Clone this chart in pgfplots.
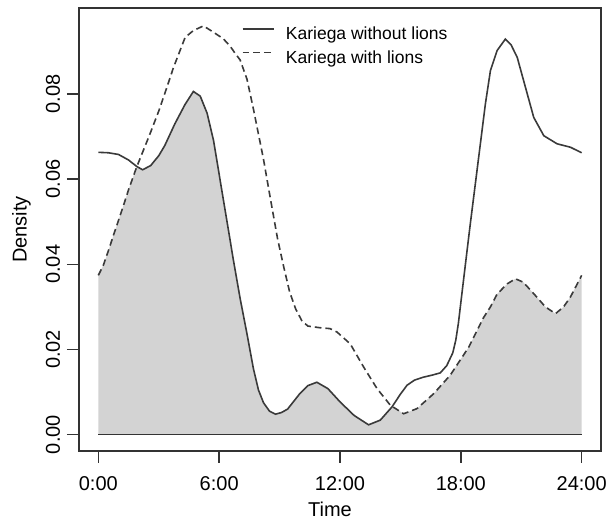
\documentclass[border=0pt]{standalone}
\usepackage{fontspec}
\setmainfont{Liberation Sans}
\usepackage{pgfplots}
\usepackage{pgfplotstable}
\pgfplotsset{compat=1.18}
\definecolor{fillgray}{HTML}{D3D3D3}
\definecolor{curvec}{HTML}{3A3A3A}
\definecolor{boxc}{HTML}{333333}
% Kariega without lions
\pgfplotstableread{
t d
0.00 0.0663
0.50 0.0662
1.00 0.0658
1.50 0.0645
1.90 0.0630
2.20 0.0622
2.60 0.0632
3.00 0.0655
3.30 0.0679
3.80 0.0730
4.30 0.0775
4.72 0.0806
5.06 0.0795
5.40 0.0755
5.72 0.0691
6.05 0.0597
6.38 0.0503
6.71 0.0409
7.04 0.0320
7.38 0.0237
7.70 0.0155
7.95 0.0105
8.20 0.0075
8.50 0.0055
8.80 0.0048
9.10 0.0052
9.40 0.0060
10.00 0.0096
10.40 0.0115
10.85 0.0123
11.40 0.0108
12.00 0.0077
12.70 0.0045
13.42 0.0023
14.00 0.0034
14.58 0.0065
15.00 0.0095
15.33 0.0116
15.70 0.0128
16.15 0.0135
16.60 0.0140
16.98 0.0145
17.30 0.0162
17.60 0.0192
17.75 0.0222
17.88 0.0262
18.00 0.0310
18.23 0.0401
18.47 0.0495
18.72 0.0589
18.97 0.0683
19.22 0.0777
19.47 0.0855
19.80 0.0902
20.21 0.0929
20.50 0.0915
20.80 0.0886
21.30 0.0800
21.62 0.0745
22.12 0.0702
22.78 0.0683
23.44 0.0675
24.00 0.0662
}\solid
% Kariega with lions
\pgfplotstableread{
t d
0.00 0.0374
0.25 0.0398
0.50 0.0432
0.75 0.0468
1.00 0.0503
1.24 0.0537
1.50 0.0575
1.90 0.0628
2.57 0.0707
3.00 0.0760
3.40 0.0815
3.73 0.0862
4.31 0.0933
4.72 0.0949
5.22 0.0960
5.72 0.0945
6.20 0.0930
6.55 0.0912
6.80 0.0895
7.04 0.0880
7.38 0.0835
7.70 0.0765
8.20 0.0647
8.53 0.0558
8.90 0.0460
9.20 0.0395
9.50 0.0335
9.80 0.0295
10.10 0.0268
10.40 0.0255
11.00 0.0251
11.50 0.0249
11.85 0.0241
12.51 0.0213
13.17 0.0159
13.84 0.0108
14.50 0.0069
15.16 0.0049
15.82 0.0061
16.65 0.0096
17.48 0.0140
18.40 0.0206
19.13 0.0275
19.47 0.0300
19.80 0.0330
20.30 0.0354
20.71 0.0366
21.10 0.0358
21.62 0.0331
22.20 0.0300
22.70 0.0284
23.10 0.0300
23.44 0.0323
24.00 0.0374
}\dashed
% overlap: the lower of the two densities
\pgfplotstableread{
t d
0.00 0.0374
0.25 0.0398
0.50 0.0432
0.75 0.0468
1.00 0.0503
1.24 0.0537
1.50 0.0575
1.90 0.0628
2.20 0.0622
2.60 0.0632
3.00 0.0655
3.30 0.0679
3.80 0.0730
4.30 0.0775
4.72 0.0806
5.06 0.0795
5.40 0.0755
5.72 0.0691
6.05 0.0597
6.38 0.0503
6.71 0.0409
7.04 0.0320
7.38 0.0237
7.70 0.0155
7.95 0.0105
8.20 0.0075
8.50 0.0055
8.80 0.0048
9.10 0.0052
9.40 0.0060
10.00 0.0096
10.40 0.0115
10.85 0.0123
11.40 0.0108
12.00 0.0077
12.70 0.0045
13.42 0.0023
14.00 0.0034
14.58 0.0065
14.60 0.0066
15.16 0.0049
15.82 0.0061
16.65 0.0096
17.48 0.0140
18.40 0.0206
19.13 0.0275
19.47 0.0300
19.80 0.0330
20.30 0.0354
20.71 0.0366
21.10 0.0358
21.62 0.0331
22.20 0.0300
22.70 0.0284
23.10 0.0300
23.44 0.0323
24.00 0.0374
}\overlap
\begin{document}
\begin{tikzpicture}
\path[use as bounding box] (-79bp,-70bp) rectangle (530bp,451bp);
\begin{axis}[
  scale only axis, width=522bp, height=443bp,
  at={(0,0)}, anchor=south west,
  xmin=-0.96, xmax=24.96, ymin=-0.00385, ymax=0.1002,
  xtick={0,6,12,18,24}, xticklabels={0:00,6:00,12:00,18:00,24:00},
  ytick={0,0.02,0.04,0.06,0.08}, yticklabels={0.00,0.02,0.04,0.06,0.08},
  /pgf/number format/assume math mode=true,
  tick align=outside, xtick pos=bottom, ytick pos=left,
  major tick length=12bp,
  xticklabel shift=9.75bp,
  axis line style={line width=1.6bp, boxc},
  tick style={line width=1.6bp, boxc},
  ticklabel style={font=\fontsize{20bp}{24bp}\selectfont},
  yticklabel style={rotate=90, anchor=south, yshift=3.3bp},
  xlabel={Time}, ylabel={Density},
  xlabel style={at={(axis description cs:0.4808,-0.1483)}, anchor=base, font=\fontsize{20bp}{24bp}\selectfont},
  ylabel style={at={(axis description cs:-0.1002,0.5)}, anchor=base, font=\fontsize{20bp}{24bp}\selectfont},
  legend style={at={(axis description cs:0.3117,0.9645)}, anchor=north west,
    draw=none, fill=none, inner sep=0pt, outer sep=0pt,
    font=\fontsize{17.5bp}{21bp}\selectfont, row sep=0pt,
    nodes={inner ysep=3.65bp, inner xsep=0bp, text height=12.6bp, text depth=3.5bp},
    /tikz/every odd column/.append style={column sep=11.6bp}},
  legend cell align=left,
  legend image code/.code={\draw[#1] (0bp,6.2bp) -- (31bp,6.2bp);},
]
\addplot[draw=none, fill=fillgray, forget plot] table[x=t,y=d]{\overlap} \closedcycle;
\addplot[curvec, line width=1.6bp] table[x=t,y=d]{\solid};
\addlegendentry{Kariega without lions}
\addplot[curvec, line width=1.6bp, dash pattern=on 6.7bp off 4bp] table[x=t,y=d]{\dashed};
\addlegendentry{Kariega with lions}
\addplot[boxc, line width=1.6bp, forget plot] coordinates {(0,0) (24,0)};
\end{axis}
\end{tikzpicture}
\end{document}
